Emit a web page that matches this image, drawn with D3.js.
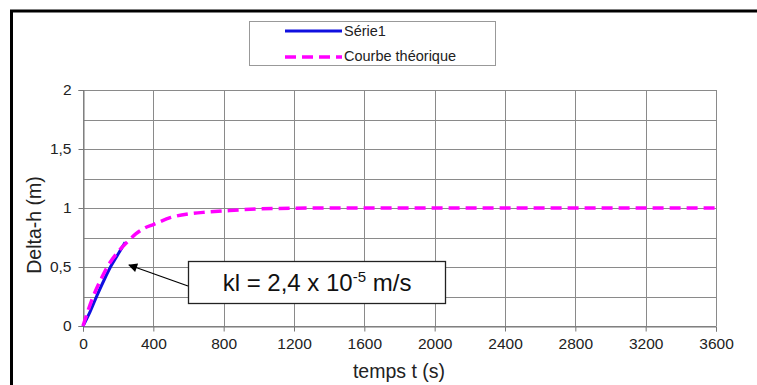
<!DOCTYPE html>
<html><head><meta charset="utf-8">
<script src="https://cdn.jsdelivr.net/npm/d3@7"></script>
<style>
html,body{margin:0;padding:0;background:#fff;}
svg{display:block;font-family:Arial,"Liberation Sans",sans-serif;}
</style></head>
<body>
<svg id="c" width="757" height="385"></svg>
<script>
// Data
const serie1T = [0, 40, 80, 120, 160, 200, 240];
const serie1V = [0, 0.12, 0.26, 0.39, 0.51, 0.61, 0.71];
const theoT = [0, 50, 100, 150, 200, 250, 300, 350, 400, 500, 600, 700, 800, 900, 1000, 1200, 1400, 1600, 2000, 2400, 2800, 3200, 3600];
const theoV = [0, 0.22, 0.39, 0.53, 0.63, 0.71, 0.78, 0.83, 0.86, 0.92, 0.95, 0.965, 0.975, 0.985, 0.992, 0.998, 1, 1, 1, 1, 1, 1, 1];
const xTicks = [0, 400, 800, 1200, 1600, 2000, 2400, 2800, 3200, 3600];
const yTicks = [0, 0.5, 1, 1.5, 2];
const yGrid = [0, 0.25, 0.5, 0.75, 1, 1.25, 1.5, 1.75, 2];
const seriesNames = ["Série1", "Courbe théorique"];

const svg = d3.select("#c");
const x = d3.scaleLinear().domain([0, 3600]).range([83, 716]);
const y = d3.scaleLinear().domain([0, 2]).range([326, 90]);

// outer frame
svg.append("path").attr("d", "M11.5,400 L11.5,11 L770,11").attr("fill", "none")
  .attr("stroke", "#000").attr("stroke-width", 3);

// grid
const g = svg.append("g");
g.selectAll(".hg").data(yGrid).join("line")
  .attr("x1", x(0)).attr("x2", x(3600))
  .attr("y1", d => Math.round(y(d)) + 0.5).attr("y2", d => Math.round(y(d)) + 0.5)
  .attr("stroke", "#8a8a8a").attr("stroke-width", 1);
g.selectAll(".vg").data(xTicks).join("line")
  .attr("x1", d => Math.round(x(d)) + 0.5).attr("x2", d => Math.round(x(d)) + 0.5)
  .attr("y1", y(2)).attr("y2", y(0))
  .attr("stroke", "#8a8a8a").attr("stroke-width", 1);

// axes
const xAxis = d3.axisBottom(x).tickValues(xTicks).tickSize(5).tickPadding(6).tickFormat(d3.format("d"));
const yAxis = d3.axisLeft(y).tickValues(yTicks).tickSize(5).tickPadding(7)
  .tickFormat(d => String(d).replace(".", ","));
const xa = svg.append("g").attr("transform", `translate(0,${Math.round(y(0)) + 0.5})`).call(xAxis);
const ya = svg.append("g").attr("transform", `translate(${Math.round(x(0)) + 0.5},0)`).call(yAxis);
[xa, ya].forEach(a => {
  a.select(".domain").attr("stroke", "#777");
  a.selectAll(".tick line").attr("stroke", "#777");
  a.selectAll(".tick text").attr("fill", "#222").attr("font-size", 15.5)
   .attr("font-family", "Arial, 'Liberation Sans', sans-serif");
});

// lines
const line = d3.line().x(d => x(d[0])).y(d => y(d[1])).curve(d3.curveMonotoneX);
svg.append("path").datum(serie1T.map((t, i) => [t, serie1V[i]]))
  .attr("d", line).attr("fill", "none").attr("stroke", "#1010e0").attr("stroke-width", 3);
svg.append("path").datum(theoT.map((t, i) => [t, theoV[i]]))
  .attr("d", line).attr("fill", "none").attr("stroke", "#ff00ff").attr("stroke-width", 3.5)
  .attr("stroke-dasharray", "11,6");

// axis titles
svg.append("text").attr("transform", "translate(41,225) rotate(-90)").attr("text-anchor", "middle")
  .attr("font-size", 19.5).attr("fill", "#222").text("Delta-h (m)");
svg.append("text").attr("x", 399).attr("y", 378).attr("text-anchor", "middle")
  .attr("font-size", 19.5).attr("fill", "#222").text("temps t (s)");

// legend
const lg = svg.append("g");
lg.append("rect").attr("x", 249.5).attr("y", 21.5).attr("width", 246).attr("height", 44)
  .attr("fill", "#fff").attr("stroke", "#999");
lg.append("line").attr("x1", 285).attr("x2", 342).attr("y1", 31).attr("y2", 31)
  .attr("stroke", "#1010e0").attr("stroke-width", 3);
lg.append("line").attr("x1", 285).attr("x2", 342).attr("y1", 57).attr("y2", 57)
  .attr("stroke", "#ff00ff").attr("stroke-width", 3.5).attr("stroke-dasharray", "11,6");
lg.selectAll("text").data(seriesNames).join("text")
  .attr("x", 344).attr("y", (d, i) => 36 + i * 25).attr("font-size", 14.5).attr("fill", "#222").text(d => d);

// annotation
const defs = svg.append("defs");
defs.append("marker").attr("id", "ah").attr("viewBox", "0 0 10 10").attr("refX", 9).attr("refY", 5)
  .attr("markerWidth", 11).attr("markerHeight", 9).attr("orient", "auto").attr("markerUnits", "userSpaceOnUse")
  .append("path").attr("d", "M0,0 L10,5 L0,10 z").attr("fill", "#000");
svg.append("line").attr("x1", 188).attr("y1", 286).attr("x2", 129).attr("y2", 265)
  .attr("stroke", "#000").attr("stroke-width", 1.3).attr("marker-end", "url(#ah)");
svg.append("rect").attr("x", 188.5).attr("y", 261.5).attr("width", 257).attr("height", 42)
  .attr("fill", "#fff").attr("stroke", "#222").attr("stroke-width", 1.3);
const at = svg.append("text").attr("x", 317).attr("y", 291).attr("text-anchor", "middle")
  .attr("font-size", 24).attr("fill", "#111");
at.append("tspan").text("kl = 2,4 x 10");
at.append("tspan").attr("dy", -9).attr("font-size", 15).text("-5");
at.append("tspan").attr("dy", 9).text(" m/s");
</script>
</body></html>
